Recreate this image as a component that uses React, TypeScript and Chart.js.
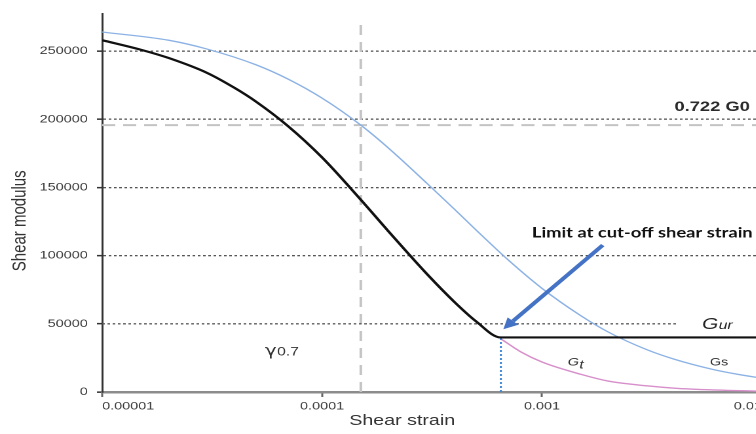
import React, { useEffect, useRef } from 'react';
import { Chart, registerables } from 'chart.js';

Chart.register(...registerables);

// ---- axes -------------------------------------------------------------
const strainTicks = [1e-5, 1e-4, 1e-3, 1e-2];
const strainTickLabels = ['0.00001', '0.0001', '0.001', '0.01'];
const modulusTicks = [0, 50000, 100000, 150000, 200000, 250000];
const strainMin = 1e-5;
const strainMax = 0.0136;
const modulusMax = 277500;

// ---- secant shear modulus Gs ------------------------------------------
const secantStrain = [1e-5, 2e-5, 3e-5, 5e-5, 7e-5, 1e-4, 1.5e-4, 2e-4, 3e-4, 4e-4, 5e-4, 7e-4, 1e-3, 1.5e-3, 2e-3, 3e-3, 4e-3, 6e-3, 8e-3, 1e-2, 1.36e-2];
const secantModulus = [264000, 258000, 251500, 240000, 229500, 215500, 195700, 179000, 153000, 134000, 119000, 97000, 76000, 56000, 44000, 31000, 24000, 16500, 12600, 10200, 7600];

// ---- tangent shear modulus Gt, limited by Gur -------------------------
const tangentStrain = [1e-5, 1.5e-5, 2e-5, 3e-5, 4e-5, 5e-5, 7e-5, 1e-4, 1.5e-4, 2e-4, 3e-4, 4e-4, 5e-4, 6.5e-4];
const tangentModulus = [258000, 251000, 245000, 234000, 223000, 213000, 195000, 172000, 141000, 118000, 86500, 66000, 52000, 40000];
const cutoffStrain = 6.5e-4;
const unloadingModulus = 40000;

// ---- tangent modulus below the cut-off --------------------------------
const tangentTailStrain = [6.5e-4, 8e-4, 1e-3, 1.5e-3, 2e-3, 3e-3, 4e-3, 6e-3, 1e-2, 1.36e-2];
const tangentTailModulus = [39000, 29500, 22000, 13000, 8000, 4500, 2800, 1500, 600, 300];

// ---- reference lines ----------------------------------------------------
const gamma07 = 1.5e-4;
const initialModulus = 271000;
const reducedModulus = 195700; // 0.722 G0
const guideModulus = 50000;
const guideEndStrain = 4.1e-3;

// drawing is done on a narrower canvas that is widened with CSS
const STRETCH = 1.31;
const CANVAS_W = 611;
const CANVAS_H = 434;

const pts = (xs: number[], ys: number[]) => xs.map((x, i) => ({ x, y: ys[i] }));

const SANS = '"Liberation Sans", Arial, Helvetica, sans-serif';

function drawRich(
  ctx: CanvasRenderingContext2D,
  x: number,
  y: number,
  main: string,
  mainFont: string,
  sub: string,
  subFont: string,
  subDrop: number
) {
  ctx.font = mainFont;
  ctx.fillText(main, x, y);
  const w = ctx.measureText(main).width;
  if (sub) {
    ctx.font = subFont;
    ctx.fillText(sub, x + w + 0.3, y + subDrop);
  }
}

const annotations = {
  id: 'strainAnnotations',
  afterDraw(chart: any) {
    const { ctx, chartArea, scales } = chart;
    const px = (v: number) => scales.x.getPixelForValue(v);
    const py = (v: number) => scales.y.getPixelForValue(v);
    ctx.save();

    // axis titles
    ctx.fillStyle = '#333';
    ctx.font = `15px ${SANS}`;
    ctx.textAlign = 'center';
    ctx.textBaseline = 'middle';
    ctx.fillText('Shear strain', chartArea.left + 229, 421);
    ctx.save();
    ctx.translate(15.6, (chartArea.top + chartArea.bottom) / 2 + 18);
    ctx.rotate(-Math.PI / 2);
    ctx.fillText('Shear modulus', 0, 0);
    ctx.restore();

    // reference level label
    ctx.textBaseline = 'alphabetic';
    ctx.textAlign = 'right';
    ctx.fillStyle = '#2b2b2b';
    ctx.font = `bold 14px ${SANS}`;
    ctx.fillText('0.722 G0', px(8.82e-3), py(205900));

    // cut-off note
    ctx.textAlign = 'left';
    ctx.fillStyle = '#111';
    ctx.font = 'bold 14px Lato, "Open Sans", sans-serif';
    ctx.fillText('Limit at cut-off shear strain', px(9.0e-4), py(113400));

    // curve labels
    ctx.fillStyle = '#222';
    drawRich(ctx, px(5.34e-3), py(46200), 'G', `italic 16px ${SANS}`, 'ur', `italic 12px ${SANS}`, 0);
    ctx.fillStyle = '#333';
    drawRich(ctx, px(1.31e-3), py(19500), 'G', `italic 11px ${SANS}`, 't', `italic 12px ${SANS}`, 3);
    ctx.font = `11px ${SANS}`;
    ctx.fillText('Gs', px(5.8e-3), py(19500));
    drawRich(ctx, px(5.5e-5), py(26700), 'γ', '15px "DejaVu Sans", sans-serif', '0.7', `12px ${SANS}`, 0);

    // arrow pointing at the cut-off
    const tx = px(1.89e-3);
    const ty = py(107700);
    const hx = px(6.67e-4);
    const hy = py(46000);
    const ang = Math.atan2(hy - ty, hx - tx);
    const headLen = 11;
    const headHalf = 5.5;
    const bx = hx - headLen * Math.cos(ang);
    const by = hy - headLen * Math.sin(ang);
    ctx.strokeStyle = '#4472c4';
    ctx.fillStyle = '#4472c4';
    ctx.lineWidth = 3.5;
    ctx.beginPath();
    ctx.moveTo(tx, ty);
    ctx.lineTo(bx, by);
    ctx.stroke();
    ctx.beginPath();
    ctx.moveTo(hx, hy);
    ctx.lineTo(bx + headHalf * Math.sin(ang), by - headHalf * Math.cos(ang));
    ctx.lineTo(bx - headHalf * Math.sin(ang), by + headHalf * Math.cos(ang));
    ctx.closePath();
    ctx.fill();

    ctx.restore();
  },
};

export default function App() {
  const canvasRef = useRef<HTMLCanvasElement | null>(null);

  useEffect(() => {
    const canvas = canvasRef.current;
    if (!canvas) return;

    const gurLine = pts(tangentStrain, tangentModulus).concat([{ x: strainMax, y: unloadingModulus }]);

    const chart = new Chart(canvas, {
      type: 'line',
      data: {
        datasets: [
          {
            label: 'Gt limited by Gur',
            data: gurLine,
            borderColor: '#111',
            borderWidth: 2.2,
            cubicInterpolationMode: 'monotone',
            pointRadius: 0,
          },
          {
            label: 'cut-off strain',
            data: [
              { x: cutoffStrain, y: 0 },
              { x: cutoffStrain, y: unloadingModulus },
            ],
            borderColor: '#3d85d8',
            borderWidth: 1.5,
            borderDash: [2, 2],
            pointRadius: 0,
          },
          {
            label: 'Gt',
            data: pts(tangentTailStrain, tangentTailModulus),
            borderColor: '#d68fca',
            borderWidth: 1.4,
            cubicInterpolationMode: 'monotone',
            pointRadius: 0,
          },
          {
            label: 'Gs',
            data: pts(secantStrain, secantModulus),
            borderColor: '#8cb2e4',
            borderWidth: 1.3,
            cubicInterpolationMode: 'monotone',
            pointRadius: 0,
          },
          {
            label: 'Gur guide',
            data: [
              { x: strainMin, y: guideModulus },
              { x: guideEndStrain, y: guideModulus },
            ],
            borderColor: '#555',
            borderWidth: 1.3,
            borderDash: [2, 2],
            pointRadius: 0,
          },
          {
            label: 'gamma 0.7',
            data: [
              { x: gamma07, y: 0 },
              { x: gamma07, y: initialModulus },
            ],
            borderColor: '#c4c4c4',
            borderWidth: 2,
            borderDash: [10, 7],
            pointRadius: 0,
          },
          {
            label: '0.722 G0',
            data: [
              { x: strainMin, y: reducedModulus },
              { x: strainMax, y: reducedModulus },
            ],
            borderColor: '#c4c4c4',
            borderWidth: 2,
            borderDash: [10, 6],
            pointRadius: 0,
          },
        ],
      },
      options: {
        responsive: false,
        animation: false,
        devicePixelRatio: 2,
        events: [],
        layout: { padding: { top: 8, right: 7, left: 0, bottom: 0 } },
        plugins: {
          legend: { display: false },
          tooltip: { enabled: false },
        },
        scales: {
          x: {
            type: 'logarithmic',
            min: strainMin,
            max: strainMax,
            afterBuildTicks: (scale: any) => {
              scale.ticks = strainTicks.map((v) => ({ value: v }));
            },
            afterFit: (scale: any) => {
              scale.height = 42;
            },
            ticks: {
              autoSkip: false,
              maxRotation: 0,
              align: 'inner',
              padding: 3,
              color: '#3c3c3c',
              font: { family: SANS, size: 11 },
              callback: (value: any) => {
                const i = strainTicks.findIndex((t) => Math.abs(t - Number(value)) / t < 1e-6);
                return i >= 0 ? strainTickLabels[i] : '';
              },
            },
            grid: {
              drawOnChartArea: false,
              drawTicks: true,
              tickLength: 5,
              tickColor: '#666',
              tickWidth: 1.5,
            },
            border: { display: true, color: '#8c8c8c', width: 2.5 },
            title: { display: false },
          },
          y: {
            type: 'linear',
            min: 0,
            max: modulusMax,
            afterBuildTicks: (scale: any) => {
              scale.ticks = modulusTicks.map((v) => ({ value: v }));
            },
            afterFit: (scale: any) => {
              scale.width = 78;
            },
            ticks: {
              padding: 7,
              color: '#3c3c3c',
              font: { family: SANS, size: 11 },
              callback: (value: any) => String(value),
            },
            grid: {
              color: (c: any) =>
                c.tick && (c.tick.value === 0 || c.tick.value === guideModulus) ? 'rgba(0,0,0,0)' : '#555',
              lineWidth: 1.3,
              drawTicks: true,
              tickLength: 4,
              tickColor: '#333',
              tickWidth: 1.5,
              tickBorderDash: [],
            },
            border: { display: true, color: '#333', width: 1.5, dash: [2, 2] },
            title: { display: false },
          },
        },
      },
      plugins: [annotations],
    } as any);

    return () => chart.destroy();
  }, []);

  return (
    <div
      style={{
        position: 'fixed',
        left: 0,
        top: 0,
        width: 756,
        height: 434,
        overflow: 'hidden',
        background: '#fff',
      }}
    >
      <div
        style={{
          width: CANVAS_W,
          height: CANVAS_H,
          transform: `scaleX(${STRETCH})`,
          transformOrigin: '0 0',
        }}
      >
        <canvas
          ref={canvasRef}
          width={CANVAS_W}
          height={CANVAS_H}
          style={{ display: 'block', width: CANVAS_W, height: CANVAS_H }}
        />
      </div>
    </div>
  );
}
